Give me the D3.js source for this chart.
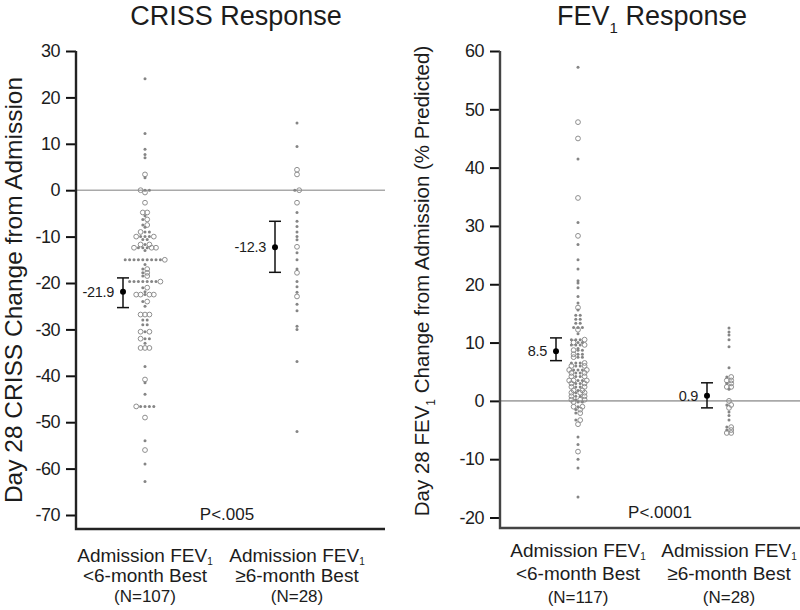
<!DOCTYPE html>
<html><head><meta charset="utf-8">
<script src="https://cdn.jsdelivr.net/npm/d3@7"></script>
<style>
body{margin:0;background:#fff}
text{font-family:"Liberation Sans",Arial,sans-serif;fill:#1c1c1c}
</style>
</head><body><script>
// ---------------- data ----------------
const groups = ["lt6", "ge6"];
const crissTicks = [30, 20, 10, 0, -10, -20, -30, -40, -50, -60, -70];
const fevTicks = [60, 50, 40, 30, 20, 10, 0, -10, -20];

// CRISS, admission FEV1 < 6-month best (N=107)
const crissLtFilled = [24, 12.2, 8.8, 7.7, 7, 2.7, 0, 0, -5.5, -6.3, -7.5, -8, -9, -9, -10, -10, -10, -10.6, -10.6,
  -11.7, -12.4, -12.4, -12.4, -13, -15, -15, -15, -15, -15, -15, -15, -15, -15, -16, -17, -17.8, -18.5,
  -19.7, -19.7, -19.7, -19.7, -19.7, -19.7, -19.7, -21, -21.9, -22.5, -24, -25, -28, -28, -29, -29,
  -30.5, -32, -32, -33, -38, -41.5, -44, -46.6, -46.6, -46.6, -46.6, -54, -59, -62.8];
const crissLtOpen = [3.4, 0, -0.5, -2.7, -4.8, -4.8, -6.3, -7.5, -9, -10, -10, -11.7, -11.7, -12.4, -12.4, -17, -17.8,
  -18.5, -19.7, -21, -22.5, -22.5, -22.5, -22.5, -24, -26.8, -26.8, -26.8, -30.5, -30.5, -32, -34, -34, -34,
  -40.8, -46.6, -49, -56, -15, -12.4];
// CRISS, admission FEV1 >= 6-month best (N=28)
const crissGeFilled = [14.5, 9.4, 0, -4.8, -6.7, -7.8, -9, -10, -10.7, -13.5, -15, -17, -19.7, -20.8, -22, -24.6,
  -26, -29.3, -30, -36.9, -52];
const crissGeOpen = [4.4, 3.4, 0, -2.7, -12.2, -17.8, -22.9];

// FEV1, admission FEV1 < 6-month best (N=117)
const fevLtFilled = [57.2, 41.5, 30.6, 26.8, 24.2, 22.6, 20.6, 20.2, 19.4, 17.9, 16.8, 15.6, 14.7, 14.7, 14, 14,
  13.3, 13.3, 12.6, 12.6, 12.6, 11.5, 10.5, 10.5, 10.5, 10, 10, 9.6, 9.6, 9.6, 9, 8.7, 8.7, 8, 8, 7.5, 7.5,
  6.5, 6.5, 6.5, 6, 6, 5.3, 5.3, 5.3, 4.8, 4.8, 4.2, 4.2, 3.5, 3.5, 3, 3, 2.4, 2.4, 1.8, 1.4, 0.8, 0.8,
  0.2, -0.2, -0.2, -1, -1.5, -2.1, -3.3, -6.2, -7.5, -10, -11.5, -16.5];
const fevLtOpen = [47.8, 45, 34.8, 28.3, 16, 12.2, 10.5, 10, 9.6, 8.7, 8, 7.5, 6.5, 6, 6, 5.3, 5.3, 4.8, 4.8,
  4.2, 4.2, 3.5, 3.5, 3.5, 3, 3, 2.4, 2.4, 1.8, 1.8, 1.4, 1.4, 1.4, 0.8, 0.8, 0.2, 0.2, 0.2, -0.2, -1, -1,
  -1.5, -2.1, -3.3, -4, -8.7];
// FEV1, admission FEV1 >= 6-month best (N=28)
const fevGeFilled = [12.5, 11.8, 11.3, 10.5, 9.3, 5.7, 4.1, 3, 2, -0.7, -1.9, -2.5, -3.3, -4.5, -5];
const fevGeOpen = [4.1, 3.5, 3.5, 3, 2.4, 2.4, 0, -0.7, -1.2, -4.5, -5, -5.5, -5.5];

// means with 95% CI
const crissMeans = [-21.9, -12.3];
const crissLow = [-25.3, -17.7];
const crissHigh = [-18.9, -6.7];
const fevMeans = [8.5, 0.9];
const fevLow = [6.9, -1.2];
const fevHigh = [10.8, 3.1];

const catLine2 = ["<6-month Best", "\u22656-month Best"];
const crissN = ["(N=107)", "(N=28)"];
const fevN = ["(N=117)", "(N=28)"];

// ---------------- drawing ----------------
const svg = d3.select("body").append("svg").attr("width", 800).attr("height", 610);

// identical values are laid out side by side in a centred row
function rows(pts, y, sp) {
  const byVal = d3.group(pts, p => p.v);
  const out = [];
  byVal.forEach(list => {
    list.sort((a, b) => a.open - b.open);
    list.forEach((p, j) => {
      const k = j === 0 ? 0 : (j % 2 ? Math.ceil(j / 2) : -j / 2);
      p.dx = k * sp;
      p.py = y(p.v);
      out.push(p);
    });
    const m = d3.mean(list, p => p.dx);
    list.forEach(p => p.dx -= m);
  });
  return out;
}

function addSub(sel, before, sub, after, subSize, shift) {
  sel.append("tspan").text(before);
  sel.append("tspan").attr("font-size", subSize).attr("dy", shift).text(sub);
  if (after) sel.append("tspan").attr("dy", -shift).text(after);
}

function panel(cfg) {
  const g = svg.append("g");
  const y = d3.scaleLinear().domain(cfg.domain).range(cfg.yRange);
  const x = d3.scalePoint().domain(groups).range(cfg.xRange);

  // zero reference line
  g.append("line").attr("x1", cfg.axisX).attr("x2", cfg.xEnd).attr("y1", y(0)).attr("y2", y(0))
    .attr("stroke", "#a9a9a9").attr("stroke-width", 1.6);

  // y axis
  const ax = d3.axisLeft(y).tickValues(cfg.ticks).tickSize(10).tickPadding(6).tickFormat(d => String(d));
  const axG = g.append("g").attr("transform", `translate(${cfg.axisX},0)`).call(ax);
  axG.select(".domain").remove();
  axG.selectAll(".tick line").attr("stroke", "#111").attr("stroke-width", 2);
  axG.selectAll(".tick text").attr("font-size", 18).attr("font-family", "Liberation Sans, Arial, sans-serif")
    .attr("fill", "#222").attr("letter-spacing", -0.5);

  g.append("path").attr("d", `M${cfg.axisX},${y(cfg.domain[1])}V${cfg.baseY}H${cfg.xEnd}`)
    .attr("fill", "none").attr("stroke", cfg.axisColor).attr("stroke-width", 2.4);

  // points
  cfg.data.forEach((d, i) => {
    const pts = d.filled.map(v => ({ v, open: false })).concat(d.open.map(v => ({ v, open: true })));
    const arr = rows(pts, y, 4.4);
    const cx = x(groups[i]);
    g.selectAll(null).data(arr.filter(p => p.open)).enter().append("circle")
      .attr("cx", p => cx + p.dx).attr("cy", p => p.py).attr("r", 2.4)
      .attr("fill", "none").attr("stroke", "#8f8f8f").attr("stroke-width", 1);
    g.selectAll(null).data(arr.filter(p => !p.open)).enter().append("circle")
      .attr("cx", p => cx + p.dx).attr("cy", p => p.py).attr("r", 1.5)
      .attr("fill", "#858585");
  });

  // error bars
  groups.forEach((gr, i) => {
    const bx = x(gr) + cfg.barOffset;
    const eg = g.append("g");
    eg.append("line").attr("x1", bx).attr("x2", bx).attr("y1", y(cfg.high[i])).attr("y2", y(cfg.low[i]))
      .attr("stroke", "#111").attr("stroke-width", 1.5);
    [cfg.high[i], cfg.low[i]].forEach(v => {
      eg.append("line").attr("x1", bx - 6).attr("x2", bx + 6).attr("y1", y(v)).attr("y2", y(v))
        .attr("stroke", "#111").attr("stroke-width", 1.5);
    });
    eg.append("circle").attr("cx", bx).attr("cy", y(cfg.means[i])).attr("r", 3).attr("fill", "#000");
    eg.append("text").attr("x", bx - 9).attr("y", y(cfg.means[i]) + 5).attr("text-anchor", "end")
      .attr("font-size", 14.5).attr("letter-spacing", -0.3).text(String(cfg.means[i]));
  });

  // category labels
  groups.forEach((gr, i) => {
    const cx = x(gr);
    const t1 = g.append("text").attr("x", cx).attr("y", cfg.catY[0]).attr("text-anchor", "middle").attr("font-size", 19);
    addSub(t1, "Admission FEV", "1", "", 10, 3);
    g.append("text").attr("x", cx).attr("y", cfg.catY[1]).attr("text-anchor", "middle").attr("font-size", 19).text(catLine2[i]);
    g.append("text").attr("x", cx).attr("y", cfg.catY[2]).attr("text-anchor", "middle").attr("font-size", 17).text(cfg.n[i]);
  });

  // p value
  g.append("text").attr("x", cfg.pX).attr("y", cfg.pY).attr("text-anchor", "middle").attr("font-size", 17).text(cfg.pText);

  // title
  const tt = g.append("text").attr("x", cfg.titleX).attr("y", 25).attr("text-anchor", "middle").attr("font-size", 27);
  cfg.title(tt);

  // y title
  const yt = g.append("text").attr("transform", `translate(${cfg.yTitleX},${cfg.yTitleY}) rotate(-90)`)
    .attr("text-anchor", "middle").attr("font-size", cfg.yTitleSize);
  cfg.yTitle(yt);
}

panel({
  domain: [-70, 30], yRange: [515, 51], xRange: [145, 297], axisX: 76, xEnd: 385, baseY: 529,
  axisColor: "#222", ticks: crissTicks,
  data: [{ filled: crissLtFilled, open: crissLtOpen }, { filled: crissGeFilled, open: crissGeOpen }],
  means: crissMeans, low: crissLow, high: crissHigh, barOffset: -22,
  catY: [562, 582, 602], n: crissN, pX: 227, pY: 520, pText: "P<.005",
  titleX: 236, title: t => t.text("CRISS Response"),
  yTitleX: 22, yTitleY: 290, yTitleSize: 24.5,
  yTitle: t => t.text("Day 28 CRISS Change from Admission")
});

panel({
  domain: [-20, 60], yRange: [517.5, 51], xRange: [578, 729], axisX: 500, xEnd: 800, baseY: 528,
  axisColor: "#444", ticks: fevTicks,
  data: [{ filled: fevLtFilled, open: fevLtOpen }, { filled: fevGeFilled, open: fevGeOpen }],
  means: fevMeans, low: fevLow, high: fevHigh, barOffset: -22,
  catY: [557, 580, 603], n: fevN, pX: 660, pY: 518, pText: "P<.0001",
  titleX: 652, title: t => addSub(t, "FEV", "1", " Response", 15, 8),
  yTitleX: 429, yTitleY: 281, yTitleSize: 20.5,
  yTitle: t => addSub(t, "Day 28 FEV", "1", " Change from Admission (% Predicted)", 12, 6)
});
</script></body></html>
